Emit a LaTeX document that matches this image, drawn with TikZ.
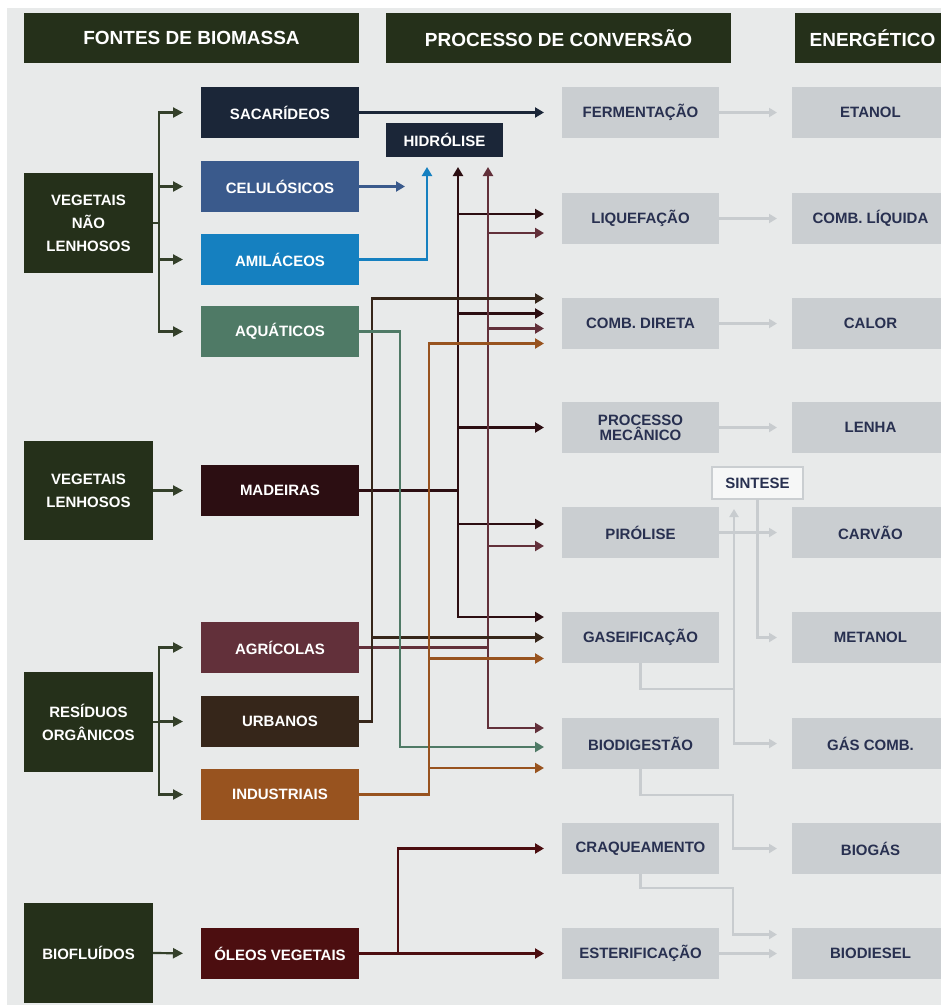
\documentclass[tikz,border=0pt]{standalone}
\usepackage{fontspec}
\setmainfont{Liberation Sans}
\usepackage{tikz}
\usetikzlibrary{arrows.meta}
\definecolor{fundo}{HTML}{E8EAEA}
\definecolor{verde}{HTML}{25301A}
\definecolor{verdeL}{HTML}{34402A}
\definecolor{sacC}{HTML}{1B2638}
\definecolor{celC}{HTML}{3A5A8C}
\definecolor{amiC}{HTML}{1580C0}
\definecolor{aquC}{HTML}{4F7A66}
\definecolor{madC}{HTML}{2C0E12}
\definecolor{agrC}{HTML}{62303A}
\definecolor{urbC}{HTML}{36261A}
\definecolor{indC}{HTML}{98531F}
\definecolor{oleC}{HTML}{4C0E10}
\definecolor{procC}{HTML}{CACED1}
\definecolor{txtC}{HTML}{283050}
\definecolor{setaC}{HTML}{C8CCCF}
\tikzset{
	caixa/.style={inner sep=0pt,outer sep=0pt,anchor=north west,align=center,font=\fontsize{15}{23}\selectfont\bfseries}
}
\tikzset{
	cab/.style={caixa,fill=verde,text=white,minimum height=50pt,font=\fontsize{19}{21}\selectfont\bfseries},
	cat/.style={caixa,fill=verde,text=white,minimum width=129pt,minimum height=100pt},
	fonte/.style={caixa,fill=#1,text=white,minimum width=158pt,minimum height=51pt},
	proc/.style={caixa,fill=procC,text=txtC,minimum width=157pt,minimum height=51pt}
}
\tikzset{
	seta/.style={draw=#1,line width=2.2pt,-{Triangle[length=9pt,width=10pt]}},
	cinza/.style={draw=setaC,line width=2.2pt,-{Triangle[length=8pt,width=9pt]},shorten >=15pt},
	ramo/.style={draw=verdeL,line width=2.2pt,-{Triangle[length=10pt,width=10pt]},shorten >=18pt}
}

\begin{document}
\begin{tikzpicture}[x=1pt,y=-1pt]
	\useasboundingbox (0,0) rectangle (941,1005);
	\fill[fundo] (7,8) rectangle (941,1005);
	%cabecalhos
	\node[cab,minimum width=335pt] (hfon) at (24,13) {FONTES DE BIOMASSA};
	\node[cab,minimum width=345pt] (hpro) at (386,13) {PROCESSO DE CONVERSÃO};
	\node[cab,minimum width=155pt] (hene) at (795,13) {ENERGÉTICO};
	%fontes
	\node[cat] (vnl) at (24,173) {VEGETAIS\\NÃO\\LENHOSOS};
	\node[cat,minimum height=99pt] (vl) at (24,441) {VEGETAIS\\LENHOSOS};
	\node[cat] (ro) at (24,672) {RESÍDUOS\\ORGÂNICOS};
	\node[cat] (bf) at (24,903) {BIOFLUÍDOS};
	\node[fonte=sacC] (sac) at (201,87) {SACARÍDEOS};
	\node[fonte=celC] (cel) at (201,161) {CELULÓSICOS};
	\node[fonte=amiC] (ami) at (201,234) {AMILÁCEOS};
	\node[fonte=aquC] (aqu) at (201,306) {AQUÁTICOS};
	\node[fonte=madC] (mad) at (201,465) {MADEIRAS};
	\node[fonte=agrC] (agr) at (201,622) {AGRÍCOLAS};
	\node[fonte=urbC] (urb) at (201,696) {URBANOS};
	\node[fonte=indC] (ind) at (201,769) {INDUSTRIAIS};
	\node[fonte=oleC] (ole) at (201,928) {ÓLEOS VEGETAIS};
	%processos
	\node[proc] (fer) at (562,87) {FERMENTAÇÃO};
	\node[proc] (liq) at (562,193) {LIQUEFAÇÃO};
	\node[proc] (cdi) at (562,298) {COMB. DIRETA};
	\node[proc,font=\fontsize{15}{15}\selectfont\bfseries] (pme) at (562,402) {PROCESSO\\MECÂNICO};
	\node[proc] (pir) at (562,507) {PIRÓLISE};
	\node[proc] (gas) at (562,612) {GASEIFICAÇÃO};
	\node[proc] (bio) at (562,718) {BIODIGESTÃO};
	\node[proc] (cra) at (562,823) {CRAQUEAMENTO};
	\node[proc] (est) at (562,928) {ESTERIFICAÇÃO};
	\node[caixa,fill=sacC,text=white,minimum width=117pt,minimum height=34pt] (hid) at (386,123) {HIDRÓLISE};
	\node[caixa,fill=fundo!40!white,draw=procC,line width=1.5pt,text=txtC,minimum width=91pt,minimum height=32pt] (sint) at (712,467) {SINTESE};
	%energeticos
	\node[proc] (eta) at (792,87) {ETANOL};
	\node[proc] (cli) at (792,193) {COMB. LÍQUIDA};
	\node[proc] (cal) at (792,298) {CALOR};
	\node[proc] (len) at (792,402) {LENHA};
	\node[proc] (car) at (792,507) {CARVÃO};
	\node[proc] (met) at (792,612) {METANOL};
	\node[proc] (gcb) at (792,718) {GÁS COMB.};
	\node[proc] (bgs) at (792,823) {BIOGÁS};
	\node[proc] (bds) at (792,928) {BIODIESEL};

	%ramos das fontes
	\foreach \f in {sac,cel,ami,aqu}
		\draw[ramo] (vnl.east) -- ++(6,0) |- (\f.west);
	\foreach \f in {agr,urb,ind}
		\draw[ramo] (ro.east) -- ++(6,0) |- (\f.west);
	\draw[ramo] (vl.east) -- (mad.west);
	\draw[ramo] (bf.east) -- (ole.west);

	%chegadas nos processos
	\coordinate (fe1) at ([xshift=-18pt]fer.west);
	\coordinate (li1) at ([shift={(-18pt,4.5pt)}]liq.west);
	\coordinate (li2) at ([shift={(-18pt,-14.5pt)}]liq.west);
	\coordinate (cd1) at ([shift={(-18pt,25pt)}]cdi.west);
	\coordinate (cd2) at ([shift={(-18pt,10pt)}]cdi.west);
	\coordinate (cd3) at ([shift={(-18pt,-5pt)}]cdi.west);
	\coordinate (cd4) at ([shift={(-18pt,-20pt)}]cdi.west);
	\coordinate (pm1) at ([xshift=-18pt]pme.west);
	\coordinate (pi1) at ([shift={(-18pt,8.5pt)}]pir.west);
	\coordinate (pi2) at ([shift={(-18pt,-13.5pt)}]pir.west);
	\coordinate (ga1) at ([shift={(-18pt,20.5pt)}]gas.west);
	\coordinate (ga2) at ([xshift=-18pt]gas.west);
	\coordinate (ga3) at ([shift={(-18pt,-21pt)}]gas.west);
	\coordinate (bi1) at ([shift={(-18pt,15.5pt)}]bio.west);
	\coordinate (bi2) at ([shift={(-18pt,-3.5pt)}]bio.west);
	\coordinate (bi3) at ([shift={(-18pt,-24.5pt)}]bio.west);
	\coordinate (cr1) at ([xshift=-18pt]cra.west);
	\coordinate (es1) at ([xshift=-18pt]est.west);
	%barramentos
	\coordinate (bAm) at ([shift={(-17.5pt,-10pt)}]hid.south);
	\coordinate (bM) at ([shift={(13.5pt,-10pt)}]hid.south);
	\coordinate (bA) at ([shift={(43.5pt,-10pt)}]hid.south);
	\coordinate (bU) at (372,0);
	\coordinate (bQ) at (400,0);
	\coordinate (bI) at (429,0);
	\coordinate (bO) at (398,0);
	\coordinate (celFim) at ([xshift=46pt]cel.east);

	\draw[seta=sacC] (sac.east) -- (fe1);
	\draw[seta=celC] (cel.east) -- (celFim);
	\draw[seta=amiC] (ami.east) -| (bAm);
	%madeiras
	\draw[seta=madC] (mad.east) -| (bM);
	\draw[seta=madC] (bM |- mad.east) |- (ga1);
	\foreach \p in {li1,cd2,pm1,pi1}
		\draw[seta=madC] (bM |- \p) -- (\p);
	%agricolas
	\draw[seta=agrC] (agr.east) -| (bA);
	\draw[seta=agrC] (bA |- agr.east) |- (bi1);
	\foreach \p in {li2,cd3,pi2}
		\draw[seta=agrC] (bA |- \p) -- (\p);
	%urbanos
	\draw[seta=urbC] (urb.east) -| (bU |- cd1) -- (cd1);
	\draw[seta=urbC] (bU |- ga2) -- (ga2);
	%aquaticos
	\draw[seta=aquC] (aqu.east) -| (bQ |- bi2) -- (bi2);
	%industriais
	\draw[seta=indC] (ind.east) -| (bI |- cd4) -- (cd4);
	\draw[seta=indC] (bI |- ga3) -- (ga3);
	\draw[seta=indC] (bI |- bi3) -- (bi3);
	%oleos
	\draw[seta=oleC] (ole.east) -- (es1);
	\draw[seta=oleC] (bO |- ole.east) |- (cr1);

	%processos -> energeticos
	\draw[cinza] (fer.east) -- (eta.west);
	\draw[cinza] (liq.east) -- (cli.west);
	\draw[cinza] (cdi.east) -- (cal.west);
	\draw[cinza] (pme.east) -- (len.west);
	\draw[cinza] (pir.east) -- (car.west);
	\draw[cinza] (est.east) -- (bds.west);
	\coordinate (gJ) at (734,689);
	\draw[cinza,shorten >=10pt] (gas.south) |- (gJ) -- (gJ |- sint.south);
	\draw[cinza] (gJ) |- (gcb.west);
	\draw[cinza] (sint.south) |- (met.west);
	\draw[cinza] (bio.south) |- (733,795) |- (bgs.west);
	\draw[cinza] (cra.south) |- (733,888) |- ([yshift=19pt]bds.west);
\end{tikzpicture}
\end{document}
